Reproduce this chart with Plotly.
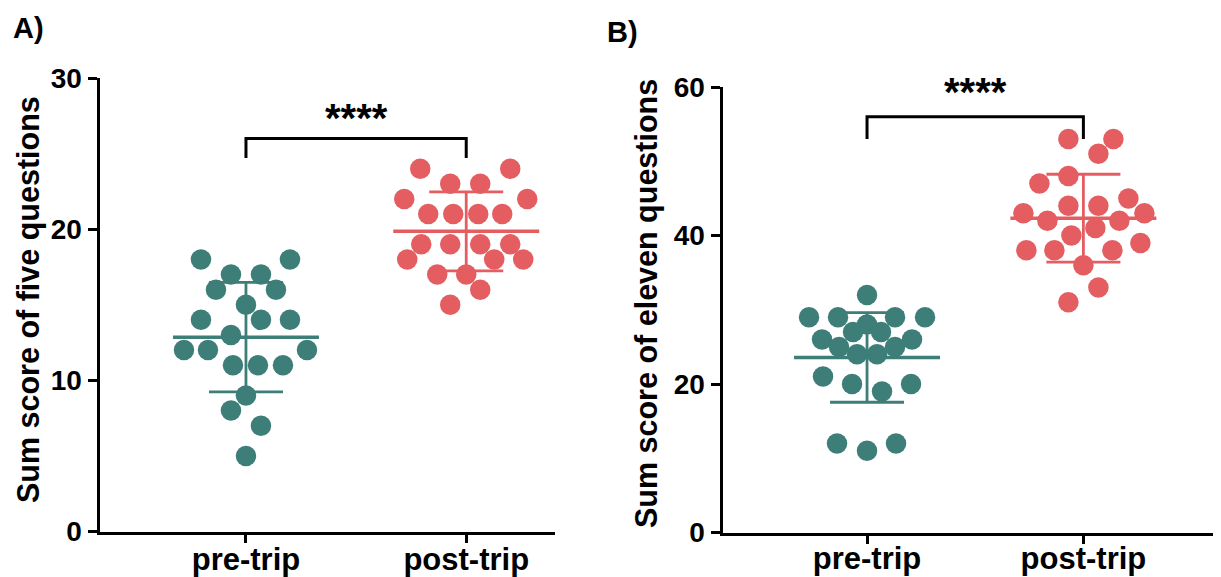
import plotly.graph_objects as go
import numpy as np

# ---------------- data ----------------
categories = ["pre-trip", "post-trip"]

# Panel A: sum score of five questions
a_pre = [18, 18, 17, 17, 16, 16, 15, 14, 14, 14, 13, 12, 12, 12, 11, 11, 11, 9, 8, 7, 5]
a_post = [24, 24, 23, 23, 22, 22, 21, 21, 21, 21, 19, 19, 19, 19, 18, 18, 18, 17, 17, 16, 15]

# Panel B: sum score of eleven questions
b_pre = [32, 29, 29, 29, 29, 28, 27, 27, 26, 26, 25, 25, 24, 24, 21, 20, 20, 19, 12, 12, 11]
b_post = [53, 53, 51, 48, 47, 45, 44, 44, 43, 43, 42, 42, 41, 40, 39, 38, 38, 38, 36, 33, 31]

a_ticks = [0, 10, 20, 30]
b_ticks = [0, 20, 40, 60]
significance = "****"

# ---------------- layout of the dot swarms (horizontal spread, px) ----------------
a_pre_swarm = [-45, 44, -15, 15, -30, 30, 0, -45, 15, 44, -15, -62, -38, 61, -13, 12, 37, 0, -15, 15, 0]
a_post_swarm = [-46, 44, -16, 14, -62, 61, -38, -13, 12, 36, -45, -16, 14, 44, -59, 28, 57, -29, 0, 14, -16]
b_pre_swarm = [0, -58, -29, 28, 58, 0, -14, 14, -45, 45, -28, 28, -10, 10, -44, -15, 44, 15, -30, 29, 0]
b_post_swarm = [-15, 30, 15, -15, -44, 45, -15, 15, -60, 61, -36, 36, 12, -12, 57, -57, -29, 29, 0, 15, -15]

# page geometry: the browser body adds an 8px margin, so the figure is shrunk by it
WIN_W, WIN_H = 1221, 577
OFF = 8
W, H = WIN_W - OFF, WIN_H - OFF


def px(xp):
    return (xp - OFF) / W


def py(yp):
    return (WIN_H - yp) / H


TEAL = "#3e7e79"
RED = "#e45d61"
FONT = "Liberation Sans, Arial, sans-serif"

panels = [
    dict(xa="x", ya="y", xdom=[px(99.5), px(555)], ydom=[py(531.5), py(78)],
         xr=[-0.665, 1.403], yr=[0, 30], ticks=a_ticks, standoff=-10,
         groups=[(a_pre, a_pre_swarm, TEAL), (a_post, a_post_swarm, RED)],
         br_top=26.0, br_end=24.7, star_y=26.0, star_shift=-4,
         title="Sum score of five questions", title_x=28, title_y=300),
    dict(xa="x2", ya="y2", xdom=[px(722.5), 1.0], ydom=[py(532.5), py(87)],
         xr=[-0.668, 1.636], yr=[0, 60], ticks=b_ticks, standoff=-12,
         groups=[(b_pre, b_pre_swarm, TEAL), (b_post, b_post_swarm, RED)],
         br_top=56.0, br_end=53.0, star_y=56.0, star_shift=1,
         title="Sum score of eleven questions", title_x=646, title_y=304),
]

fig = go.Figure()
annotations = []

for p in panels:
    dom_px = (p["xdom"][1] - p["xdom"][0]) * W
    units_per_px = (p["xr"][1] - p["xr"][0]) / dom_px
    for ci, (vals, swarm, col) in enumerate(p["groups"]):
        vals = np.array(vals, dtype=float)
        xs = ci + np.array(swarm) * units_per_px
        fig.add_trace(go.Scatter(
            x=xs, y=vals, mode="markers", xaxis=p["xa"], yaxis=p["ya"],
            marker=dict(size=20.5, color=col, line=dict(width=0)),
            showlegend=False, hoverinfo="skip"))
        m = vals.mean()
        sd = vals.std(ddof=1)
        half = 73 * units_per_px
        # mean line
        fig.add_trace(go.Scatter(
            x=[ci - half, ci + half], y=[m, m], mode="lines",
            xaxis=p["xa"], yaxis=p["ya"], line=dict(color=col, width=3.5),
            showlegend=False, hoverinfo="skip"))
        # SD error bar
        fig.add_trace(go.Scatter(
            x=[ci], y=[m], mode="markers", xaxis=p["xa"], yaxis=p["ya"],
            marker=dict(size=1, color="rgba(0,0,0,0)"),
            error_y=dict(type="data", array=[sd], visible=True, color=col,
                         thickness=2.8, width=37),
            showlegend=False, hoverinfo="skip"))
    # significance bracket
    fig.add_trace(go.Scatter(
        x=[0, 0, 1, 1], y=[p["br_end"], p["br_top"], p["br_top"], p["br_end"]],
        mode="lines", xaxis=p["xa"], yaxis=p["ya"],
        line=dict(color="black", width=3), showlegend=False, hoverinfo="skip"))
    annotations.append(dict(
        x=0.5, y=p["star_y"], xref=p["xa"], yref=p["ya"], text=significance,
        showarrow=False, xanchor="center", yanchor="bottom", yshift=p["star_shift"],
        font=dict(family=FONT, size=40, color="black", weight="bold")))
    annotations.append(dict(
        x=px(p["title_x"]), y=py(p["title_y"]), xref="paper", yref="paper",
        text=p["title"], textangle=-90, showarrow=False,
        xanchor="center", yanchor="middle",
        font=dict(family=FONT, size=30.5, color="black", weight="bold")))

annotations.append(dict(x=px(11), y=py(28), xref="paper", yref="paper", text="A)",
                        showarrow=False, xanchor="left", yanchor="middle",
                        font=dict(family=FONT, size=29, color="black", weight="bold")))
annotations.append(dict(x=px(605), y=py(32), xref="paper", yref="paper", text="B)",
                        showarrow=False, xanchor="left", yanchor="middle",
                        font=dict(family=FONT, size=29, color="black", weight="bold")))

axis_common = dict(showgrid=False, zeroline=False, showline=True, linecolor="black",
                   linewidth=3, ticks="outside", tickwidth=3, tickcolor="black",
                   automargin=False, fixedrange=True)

layout = dict(width=W, height=H, margin=dict(l=0, r=0, t=0, b=0, pad=0, autoexpand=False),
              paper_bgcolor="white", plot_bgcolor="white",
              annotations=annotations, showlegend=False)

for i, p in enumerate(panels):
    sfx = "" if i == 0 else "2"
    layout["xaxis" + sfx] = dict(
        axis_common, domain=p["xdom"], range=p["xr"], anchor=p["ya"],
        tickvals=[0, 1], ticktext=categories, ticklen=8, ticklabelstandoff=p["standoff"],
        tickfont=dict(family=FONT, size=31, color="black", weight="bold"))
    layout["yaxis" + sfx] = dict(
        axis_common, domain=p["ydom"], range=p["yr"], anchor=p["xa"],
        tickvals=p["ticks"], ticklen=9,
        tickfont=dict(family=FONT, size=28, color="black", weight="bold"))

fig.update_layout(**layout)
fig.write_html("out.html", config={"displayModeBar": False})
